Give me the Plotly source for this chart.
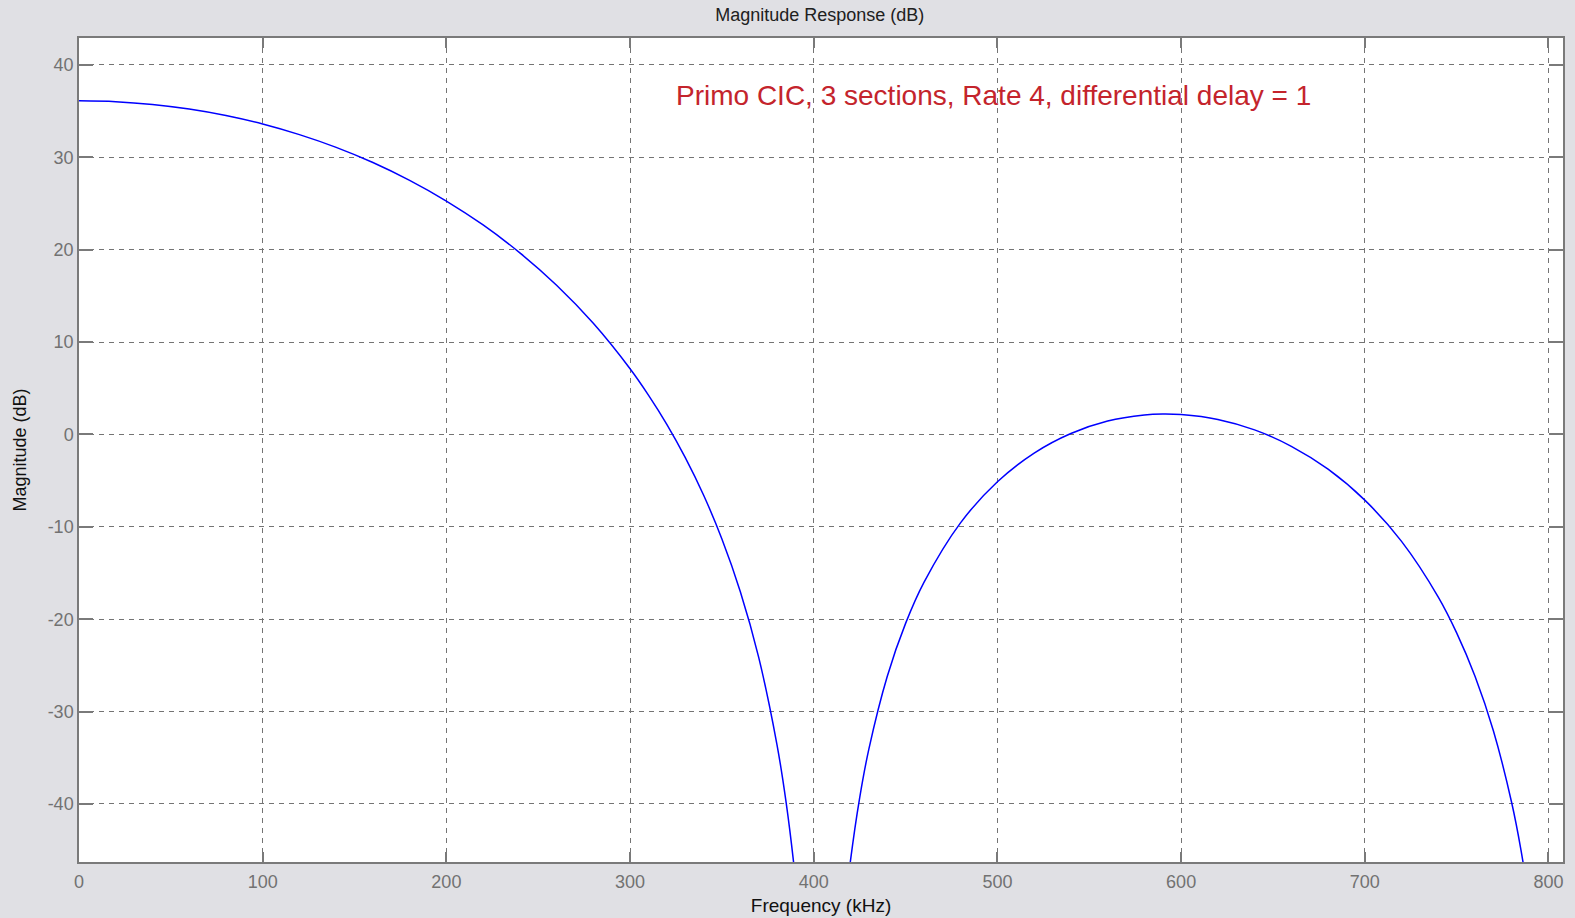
import plotly.graph_objects as go

# Frequency (kHz) and magnitude (dB), main lobe
freq_main = [0, 20, 40, 60, 80, 100, 120, 140, 160, 180, 200, 220, 240, 260, 280,
             300, 310, 320, 330, 340, 350, 360, 370, 380, 385, 390, 393]
mag_main = [36.12, 36.03, 35.73, 35.23, 34.53, 33.61, 32.46, 31.08, 29.44, 27.51,
            25.27, 22.68, 19.66, 16.15, 12.03, 7.11, 4.26, 1.10, -2.48, -6.55,
            -11.31, -16.99, -24.10, -33.59, -39.89, -48.08, -54.5]

# Second lobe
freq_side = [416, 420, 425, 430, 440, 450, 460, 480, 500, 520, 540, 560, 580, 590,
             600, 620, 640, 660, 680, 700, 720, 740, 750, 760, 770, 780, 785, 790]
mag_side = [-53.4, -46.14, -39.33, -34.06, -26.19, -20.45, -16.01, -9.54, -5.12,
            -2.01, 0.11, 1.46, 2.12, 2.22, 2.16, 1.63, 0.50, -1.28, -3.76, -7.11,
            -11.57, -17.60, -21.47, -26.17, -32.07, -39.89, -44.96, -51.31]

x_ticks = [0, 100, 200, 300, 400, 500, 600, 700, 800]
x_labels = ["0", "100", "200", "300", "400", "500", "600", "700", "800"]
y_ticks = [-40, -30, -20, -10, 0, 10, 20, 30, 40]
y_labels = ["-40", "-30", "-20", "-10", "0", "10", "20", "30", "40"]

title_text = "Magnitude Response (dB)"
x_title = "Frequency (kHz)"
y_title = "Magnitude (dB)"
note_text = "Primo CIC, 3 sections, Rate 4, differential delay = 1"

BG = "#e0e0e4"

fig = go.Figure()
fig.add_trace(go.Scatter(x=freq_main, y=mag_main, mode="lines",
                         line=dict(color="#0000ff", width=1.5, shape="spline"),
                         showlegend=False, hoverinfo="x+y"))
fig.add_trace(go.Scatter(x=freq_side, y=mag_side, mode="lines",
                         line=dict(color="#0000ff", width=1.5, shape="spline"),
                         showlegend=False, hoverinfo="x+y"))

fig.add_annotation(x=498, y=36.75, xref="x", yref="y", text=note_text,
                   showarrow=False, xanchor="center", yanchor="middle",
                   font=dict(family="Arial", size=28, color="#c4242c"))

axis_common = dict(
    showline=True, linecolor="#7a7a7a", linewidth=1.5, mirror="ticks",
    ticks="inside", tickcolor="#7a7a7a", tickwidth=1.5,
    showgrid=True, gridcolor="#747474", gridwidth=1.4, griddash="5px,5px",
    zeroline=False, automargin=False,
    tickfont=dict(family="Arial", size=18, color="#727272"),
)

fig.update_layout(
    width=1575, height=918,
    paper_bgcolor=BG, plot_bgcolor="#ffffff",
    margin=dict(l=79, r=12, t=38, b=56),
    title=dict(text=title_text, x=0.5205, xanchor="center", y=1 - 15 / 918,
               yanchor="middle", yref="container",
               font=dict(family="Arial", size=18, color="#202020")),
    xaxis=dict(range=[0, 807.9], tickvals=x_ticks, ticktext=x_labels, ticklen=10,
               ticklabelstandoff=3,
               title=dict(text=x_title, standoff=7,
                          font=dict(family="Arial", size=19, color="#111111")),
               **axis_common),
    yaxis=dict(range=[-46.28, 42.92], tickvals=y_ticks, ticktext=y_labels, ticklen=14,
               ticklabelstandoff=0,
               title=dict(text=y_title, standoff=16,
                          font=dict(family="Arial", size=18, color="#111111")),
               **axis_common),
)

fig.write_html(
    "out.html",
    config={"displayModeBar": False},
    post_script=(
        "document.body.style.margin='0';"
        "document.body.style.padding='0';"
        "document.body.style.background='" + BG + "';"
        "document.documentElement.style.overflow='hidden';"
    ),
)
